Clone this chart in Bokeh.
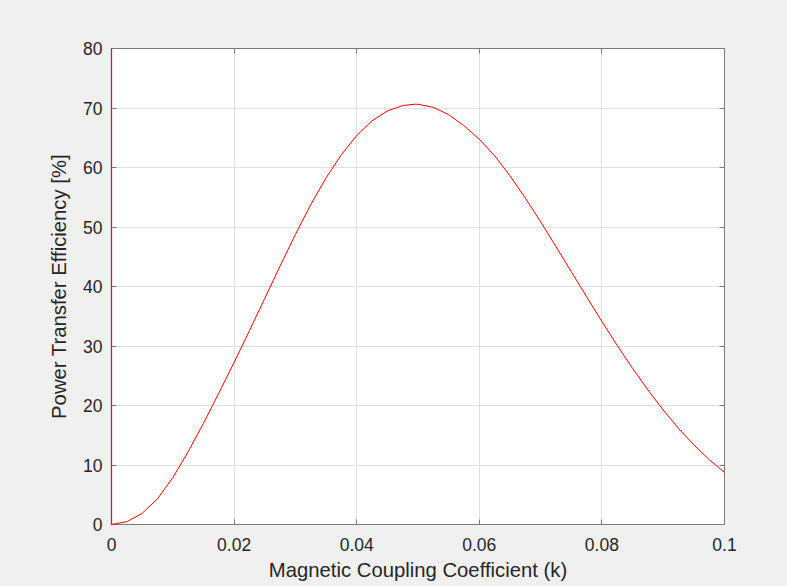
from bokeh.plotting import figure
from bokeh.models import Range1d, FixedTicker, LinearAxis, CustomJSTickFormatter
from bokeh.embed import file_html
from bokeh.resources import INLINE

# Data
k_values = [0.0, 0.0, 0.0025, 0.005, 0.0075, 0.01, 0.0125, 0.015, 0.0175, 0.02,
            0.0225, 0.025, 0.0275, 0.03, 0.0325, 0.035, 0.0375, 0.04, 0.0425,
            0.045, 0.0475, 0.0495, 0.05, 0.0525, 0.055, 0.0575, 0.06, 0.0625,
            0.065, 0.0675, 0.07, 0.0725, 0.075, 0.0775, 0.08, 0.0825, 0.085,
            0.0875, 0.09, 0.0925, 0.095, 0.0975, 0.1]
efficiency = [80.0, 0.0, 0.47, 1.88, 4.31, 7.88, 12.22, 17.0, 22.06, 27.25,
              32.56, 38.0, 43.44, 48.75, 53.75, 58.25, 62.16, 65.38, 67.84,
              69.5, 70.41, 70.64, 70.62, 70.12, 68.88, 67.03, 64.75, 61.97,
              58.62, 54.88, 50.88, 46.72, 42.5, 38.28, 34.12, 30.09, 26.25,
              22.62, 19.25, 16.16, 13.38, 10.91, 8.75]

x_ticks = [0.0, 0.02, 0.04, 0.06, 0.08, 0.1]
x_tick_labels = ["0", "0.02", "0.04", "0.06", "0.08", "0.1"]
y_ticks = [0, 10, 20, 30, 40, 50, 60, 70, 80]
y_tick_labels = ["0", "10", "20", "30", "40", "50", "60", "70", "80"]

x_label = "Magnetic Coupling Coefficient (k)"
y_label = "Power Transfer Efficiency [%]"

FONT = "Liberation Sans"
TXT = "#262626"
AXC = "#7a7a7a"
BG = "#f0f0f0"

p = figure(frame_width=613, frame_height=476,
           x_range=Range1d(0, 0.1), y_range=Range1d(0, 80),
           output_backend="svg", toolbar_location=None,
           background_fill_color="white", border_fill_color=BG,
           min_border_left=111, min_border_right=63,
           min_border_top=48, min_border_bottom=60)
p.outline_line_color = AXC

xfmt = CustomJSTickFormatter(args=dict(t=x_ticks, l=x_tick_labels), code="""
let best = 0; for (let i = 0; i < t.length; i++) { if (Math.abs(t[i]-tick) < Math.abs(t[best]-tick)) best = i; }
return l[best];""")
yfmt = CustomJSTickFormatter(args=dict(t=y_ticks, l=y_tick_labels), code="""
let best = 0; for (let i = 0; i < t.length; i++) { if (Math.abs(t[i]-tick) < Math.abs(t[best]-tick)) best = i; }
return l[best];""")
blank = CustomJSTickFormatter(code="return '';")

def style_axis(ax, ticks, fmt):
    ax.ticker = FixedTicker(ticks=ticks)
    ax.formatter = fmt
    ax.axis_line_color = AXC
    ax.major_tick_line_color = AXC
    ax.major_tick_in = 5
    ax.major_tick_out = 0
    ax.minor_tick_line_color = None
    ax.major_label_text_font = FONT
    ax.major_label_text_font_size = "17.5px"
    ax.major_label_text_color = TXT
    ax.axis_label_text_font = FONT
    ax.axis_label_text_font_size = "20.3px"
    ax.axis_label_text_font_style = "normal"
    ax.axis_label_text_color = TXT

style_axis(p.xaxis[0], x_ticks, xfmt)
style_axis(p.yaxis[0], y_ticks, yfmt)
p.xaxis[0].axis_label = x_label
p.yaxis[0].axis_label = y_label
p.xaxis[0].major_label_standoff = 13
p.xaxis[0].axis_label_standoff = 5
p.yaxis[0].major_label_standoff = 9
p.yaxis[0].axis_label_standoff = 10

top = LinearAxis()
style_axis(top, x_ticks, blank)
top.major_label_text_font_size = "1px"
right = LinearAxis()
style_axis(right, y_ticks, blank)
right.major_label_text_font_size = "1px"
p.add_layout(top, "above")
p.add_layout(right, "right")

p.xgrid.ticker = FixedTicker(ticks=x_ticks)
p.ygrid.ticker = FixedTicker(ticks=y_ticks)
for g in (p.xgrid[0], p.ygrid[0]):
    g.grid_line_color = "#dfdfdf"
    g.grid_line_width = 1

p.line(k_values, efficiency, line_color="#ff0000", line_width=1, level="overlay")
# the vertical jump at k = 0 sits on the left frame edge
p.line(k_values[:2], efficiency[:2], line_color="#ff0000", line_width=1.4,
       line_alpha=0.6, level="overlay")

html = file_html(p, INLINE)
html = html.replace("</head>", "<style>html,body{background:#f0f0f0;}</style></head>", 1)
open("out.html", "w").write(html)
